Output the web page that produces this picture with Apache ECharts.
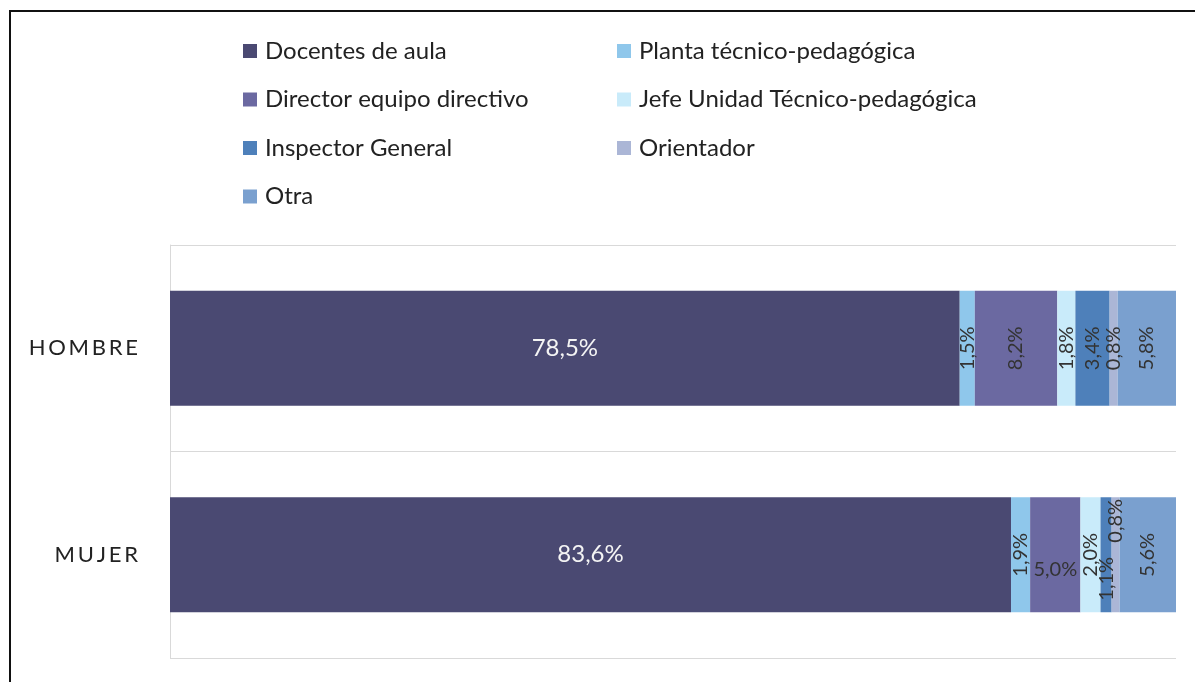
<!DOCTYPE html>
<html>
<head>
<meta charset="utf-8">
<script src="https://cdn.jsdelivr.net/npm/echarts@6/dist/echarts.min.js"></script>
<style>
  html, body { margin: 0; padding: 0; background: #fff; }
  #chart { width: 1195px; height: 682px; }
</style>
</head>
<body>
<div id="chart"></div>
<script>
  // categorias (eje vertical) y porcentajes por cargo
  var categories = ['HOMBRE', 'MUJER'];
  var seriesNames = ['Docentes de aula', 'Planta técnico-pedagógica', 'Director equipo directivo',
    'Jefe Unidad Técnico-pedagógica', 'Inspector General', 'Orientador', 'Otra'];
  var docentes = [78.5, 83.6];
  var planta = [1.5, 1.9];
  var director = [8.2, 5.0];
  var jefe = [1.8, 2.0];
  var inspector = [3.4, 1.1];
  var orientador = [0.8, 0.8];
  var otra = [5.8, 5.6];

  var values = [docentes, planta, director, jefe, inspector, orientador, otra];
  var colors = ['#4a4972', '#8fc7eb', '#6b69a1', '#c9ebfa', '#4e80ba', '#abb6d6', '#7aa0cf'];
  var font = 'Lato';

  // ajustes de etiquetas puntuales (serie, categoria)
  var labelFix = {
    '2-1': {rotate: 0, offset: [0, 15]},
    '4-1': {offset: [-24, 0]},
    '5-1': {offset: [34, 0]}
  };

  function fmt(v) {
    return v.toFixed(1).replace('.', ',') + '%';
  }

  var chart = echarts.init(document.getElementById('chart'));

  var series = [];
  for (var i = 0; i < values.length; i++) {
    var data = [];
    for (var j = 0; j < values[i].length; j++) {
      var item = {value: values[i][j]};
      if (labelFix[i + '-' + j]) item.label = labelFix[i + '-' + j];
      data.push(item);
    }
    var first = i === 0;
    series.push({
      name: seriesNames[i],
      type: 'bar',
      stack: 'total',
      barWidth: '55.7%',
      itemStyle: {color: colors[i]},
      label: {
        show: true,
        position: 'inside',
        rotate: first ? 0 : 90,
        color: first ? '#f4f4f4' : '#333',
        fontFamily: font,
        fontSize: first ? 24 : 20,
        formatter: function (p) { return fmt(p.value); }
      },
      data: data
    });
  }

  var legendText = {fontFamily: font, fontSize: 24, color: '#222', lineHeight: 24, padding: [0, 0, 0, 3]};

  var option = {
    animation: false,
    color: colors,
    grid: {left: 170, right: 19, top: 245, bottom: 24},
    legend: [{
      orient: 'vertical',
      left: 243, top: 39, padding: 0,
      itemWidth: 14, itemHeight: 14, itemGap: 24.5,
      icon: 'rect',
      textStyle: legendText,
      data: [seriesNames[0], seriesNames[2], seriesNames[4], seriesNames[6]]
    }, {
      orient: 'vertical',
      left: 617, top: 39, padding: 0,
      itemWidth: 14, itemHeight: 14, itemGap: 24.5,
      icon: 'rect',
      textStyle: legendText,
      data: [seriesNames[1], seriesNames[3], seriesNames[5]]
    }],
    xAxis: {
      type: 'value',
      min: 0, max: 100,
      show: false
    },
    yAxis: {
      type: 'category',
      inverse: true,
      data: categories,
      axisLine: {show: true, lineStyle: {color: '#d9d9d9', width: 1}},
      axisTick: {show: false},
      splitLine: {show: true, lineStyle: {color: '#d9d9d9', width: 1}},
      axisLabel: {
        margin: 32,
        fontFamily: font,
        fontSize: 22,
        color: '#222',
        formatter: function (v) { return v.split('').join('\u2009'); }
      }
    },
    graphic: [{
      type: 'rect',
      shape: {x: 10, y: 11, width: 1200, height: 700},
      style: {fill: 'none', stroke: '#111', lineWidth: 2},
      silent: true
    }],
    series: series
  };

  chart.setOption(option);
</script>
</body>
</html>
